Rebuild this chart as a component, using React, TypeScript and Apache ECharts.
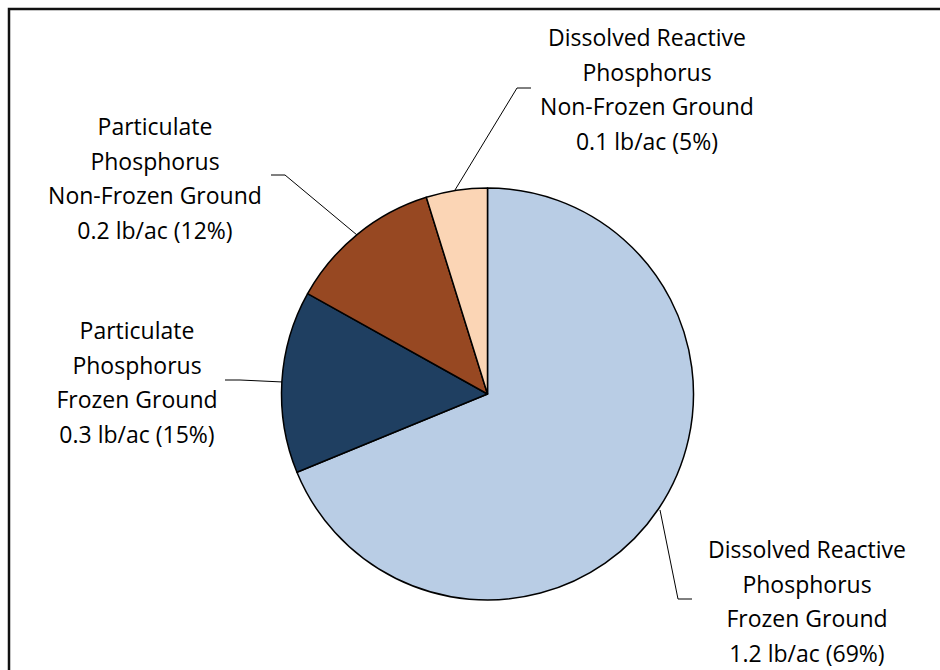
import React, { useEffect, useRef } from "react";
import * as echarts from "echarts";

const names = [
  "Dissolved Reactive\nPhosphorus\nFrozen Ground",
  "Particulate\nPhosphorus\nFrozen Ground",
  "Particulate\nPhosphorus\nNon-Frozen Ground",
  "Dissolved Reactive\nPhosphorus\nNon-Frozen Ground",
];
const loads = [1.2, 0.3, 0.2, 0.1];
const percents = [69, 15, 12, 5];
const shares = [68.8, 14.3, 12.1, 4.8];
const colors = ["#B9CDE5", "#1F3F61", "#974822", "#FBD5B5"];

// label block centres and leader line points (layout only)
const labelPos = [
  { x: 807, y: 601, pts: [[660, 510], [678, 599], [692, 599]] },
  { x: 137, y: 382, pts: [[283, 382], [240, 380], [225, 380]] },
  { x: 155, y: 178, pts: [[357, 235], [285, 175], [271, 175]] },
  { x: 647, y: 89, pts: [[455, 190], [517, 88], [531, 88]] },
];

export default function App() {
  const ref = useRef<HTMLDivElement>(null);
  useEffect(() => {
    if (!ref.current) return;
    const chart = echarts.init(ref.current, undefined, { renderer: "svg" });
    chart.setOption({
      animation: false,
      backgroundColor: "#ffffff",
      graphic: [
        {
          type: "rect",
          shape: { x: 9, y: 9, width: 1000, height: 1000 },
          style: { fill: "none", stroke: "#111", lineWidth: 2.5 },
          silent: true,
        },
      ],
      series: [
        {
          type: "pie",
          center: [487.5, 394],
          radius: 206,
          startAngle: 90,
          clockwise: true,
          avoidLabelOverlap: false,
          itemStyle: { borderColor: "#000", borderWidth: 1.5 },
          data: shares.map((v, i) => ({
            value: v,
            name: names[i],
            itemStyle: { color: colors[i] },
          })),
          label: {
            show: true,
            position: "outside",
            fontFamily: "Open Sans",
            fontSize: 23,
            lineHeight: 34.5,
            color: "#000",
            align: "center",
            formatter: (p: any) =>
              `${p.name}\n${loads[p.dataIndex]} lb/ac (${percents[p.dataIndex]}%)`,
          },
          labelLine: {
            show: true,
            lineStyle: { color: "#000", width: 1 },
          },
          labelLayout: (params: any) => {
            const l = labelPos[params.dataIndex];
            return {
              x: l.x,
              y: l.y,
              align: "center",
              verticalAlign: "middle",
              labelLinePoints: l.pts,
            };
          },
        },
      ],
    });
    return () => chart.dispose();
  }, []);
  return (
    <div
      ref={ref}
      style={{ position: "absolute", left: 0, top: 0, width: 940, height: 670 }}
    />
  );
}
